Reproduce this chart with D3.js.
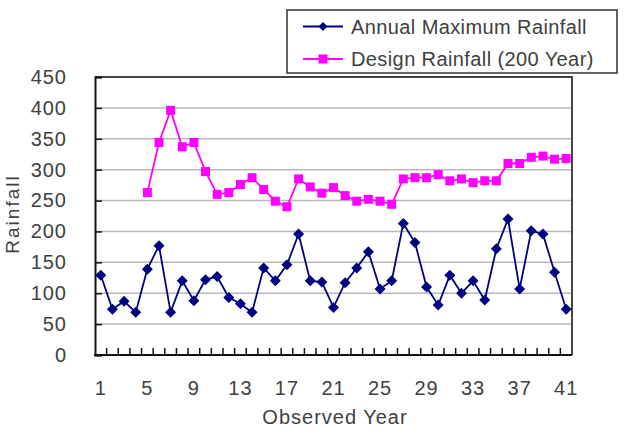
<!DOCTYPE html>
<html><head><meta charset="utf-8">
<script src="https://cdn.jsdelivr.net/npm/d3@7"></script>
<style>
body{margin:0;background:#fff;}
text{font-family:"Liberation Sans",Arial,sans-serif;fill:#404040;}
</style></head><body>
<svg id="c" width="629" height="429"></svg>
<script>
const years = d3.range(1, 42);
const annualMax = [129,74,87,69,139,177,69,120,88,122,127,93,83,69,141,120,146,196,120,118,
  77,117,141,167,107,120,213,182,110,81,129,100,120,89,172,220,107,201,196,134,74];
const designRain = [null,null,null,null,263,344,396,337,344,297,260,263,276,287,268,249,240,285,272,262,
  271,258,249,252,249,244,285,287,287,292,282,285,279,282,282,310,310,320,322,317,318];
const yTicks = [0,50,100,150,200,250,300,350,400,450];
const xTickLabels = [1,5,9,13,17,21,25,29,33,37,41];
const seriesNames = ["Annual Maximum Rainfall","Design Rainfall (200 Year)"];
const colors = ["#000080","#ff00ff"];

const svg = d3.select("#c");
const L=95, R=572, T=77, B=355;
const x = d3.scaleBand().domain(years).range([L,R]);
const y = d3.scaleLinear().domain([0,450]).range([B,T]);
const cx = d => x(d)+x.bandwidth()/2;

// gridlines
svg.append("g").selectAll("line").data(yTicks.filter(v=>v>0)).join("line")
  .attr("x1",L).attr("x2",R).attr("y1",d=>y(d)).attr("y2",d=>y(d))
  .attr("stroke","#b8b8b8").attr("stroke-width",1.5);

// frame top/right
svg.append("path").attr("d",`M${L},${T}H${R}V${B}`).attr("fill","none")
  .attr("stroke","#444").attr("stroke-width",2);

// y axis
const yAxis = svg.append("g").attr("transform",`translate(${L},0)`)
  .call(d3.axisLeft(y).tickValues(yTicks).tickSize(-7).tickPadding(28));
yAxis.select(".domain").attr("stroke","#111").attr("stroke-width",2);
yAxis.selectAll(".tick line").attr("stroke","#111").attr("stroke-width",1.5);
yAxis.selectAll("text").style("font-size","20px").style("letter-spacing","1px").attr("fill","#404040");

// x axis: ticks at category boundaries
const xb = svg.append("g");
xb.selectAll("line").data(years.slice(1)).join("line")
  .attr("x1",d=>x(d)).attr("x2",d=>x(d)).attr("y1",B).attr("y2",B-7)
  .attr("stroke","#111").attr("stroke-width",1.5);
xb.append("line").attr("x1",L-1).attr("x2",R).attr("y1",B).attr("y2",B)
  .attr("stroke","#111").attr("stroke-width",2);
xb.selectAll("text").data(xTickLabels).join("text")
  .attr("x",d=>cx(d)).attr("y",395).attr("text-anchor","middle")
  .style("font-size","20px").style("letter-spacing","1px").text(d=>d);

// titles
svg.append("text").attr("x",335).attr("y",424).attr("text-anchor","middle")
  .style("font-size","20px").style("letter-spacing","1px").text("Observed Year");
svg.append("text").attr("transform","translate(19,214) rotate(-90)").attr("text-anchor","middle")
  .style("font-size","19px").style("letter-spacing","2px").text("Rainfall");

// series
const line = d3.line().defined(d=>d[1]!=null).x(d=>cx(d[0])).y(d=>y(d[1]));
const s1 = years.map((yr,i)=>[yr,annualMax[i]]);
const s2 = years.map((yr,i)=>[yr,designRain[i]]);
svg.append("path").attr("d",line(s1)).attr("fill","none").attr("stroke",colors[0]).attr("stroke-width",1.8);
svg.append("path").attr("d",line(s2)).attr("fill","none").attr("stroke",colors[1]).attr("stroke-width",1.8);
const diamond = "M0,-5.5L5.5,0L0,5.5L-5.5,0Z";
svg.append("g").selectAll("path").data(s1).join("path")
  .attr("transform",d=>`translate(${cx(d[0])},${y(d[1])})`).attr("d",diamond).attr("fill",colors[0]);
svg.append("g").selectAll("rect").data(s2.filter(d=>d[1]!=null)).join("rect")
  .attr("x",d=>cx(d[0])-4.5).attr("y",d=>y(d[1])-4.5).attr("width",9).attr("height",9).attr("fill",colors[1]);

// legend
const lg = svg.append("g");
lg.append("rect").attr("x",287).attr("y",10).attr("width",330).attr("height",63)
  .attr("fill","#fff").attr("stroke","#333").attr("stroke-width",1.5);
const rows=[26.5,59];
seriesNames.forEach((n,i)=>{
  lg.append("line").attr("x1",303).attr("x2",343).attr("y1",rows[i]).attr("y2",rows[i])
    .attr("stroke",colors[i]).attr("stroke-width",1.8);
  if(i===0) lg.append("path").attr("transform",`translate(323,${rows[i]})`).attr("d","M0,-4.5L4.5,0L0,4.5L-4.5,0Z").attr("fill",colors[0]);
  else lg.append("rect").attr("x",318.5).attr("y",rows[i]-4.5).attr("width",9).attr("height",9).attr("fill",colors[1]);
  lg.append("text").attr("x",351).attr("y",rows[i]+7).style("font-size","20px").style("letter-spacing","0.4px").text(n);
});
</script></body></html>
